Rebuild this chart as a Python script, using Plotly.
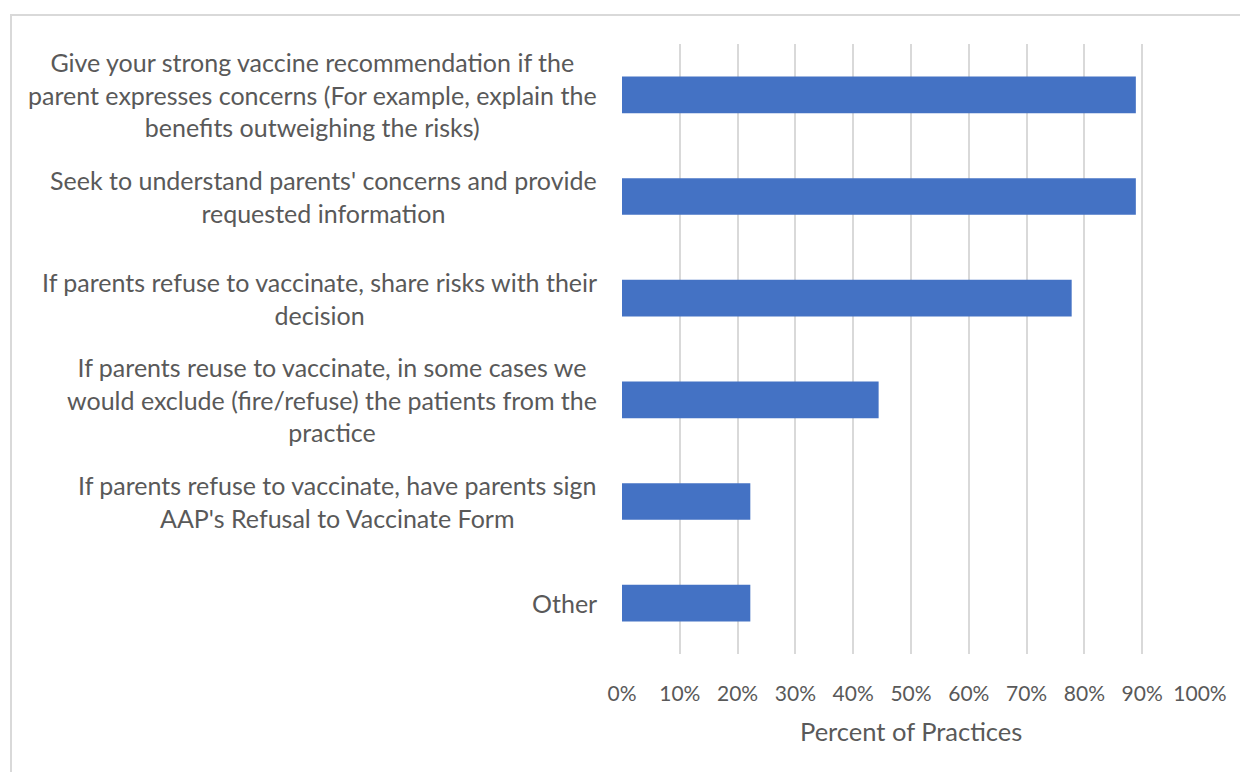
import plotly.graph_objects as go

categories = [
    "Give your strong vaccine recommendation if the<br>parent expresses concerns (For example, explain the<br>benefits outweighing the risks)",
    "Seek to understand parents' concerns and provide<br>requested information",
    "If parents refuse to vaccinate, share risks with their<br>decision",
    "If parents reuse to vaccinate, in some cases we<br>would exclude (fire/refuse) the patients from the<br>practice",
    "If parents refuse to vaccinate, have parents sign<br>AAP's Refusal to Vaccinate Form",
    "Other",
]
values = [0.889, 0.889, 0.778, 0.444, 0.222, 0.222]
x_ticks = [i / 10 for i in range(11)]
x_ticklabels = [f"{i*10}%" for i in range(11)]

FONT = "Lato"
TXT = "#595959"
OFF = 8  # page body margin
W, H = 1248, 772
L, T = 622 - OFF, 44 - OFF
R = W - (1200 - OFF)
B = H - (654 - OFF)
pw, ph = W - L - R, H - T - B


def px_x(ref_x):
    return (ref_x - OFF - L) / pw


def px_y(ref_y):
    return (H - B - (ref_y - OFF)) / ph


fig = go.Figure()
fig.add_trace(go.Bar(
    y=list(range(len(categories))),
    x=values,
    orientation="h",
    marker=dict(color="#4472C4", line=dict(width=0)),
    width=0.36,
    hoverinfo="skip",
))

annotations = []
for i, c in enumerate(categories):
    annotations.append(dict(
        x=px_x(599), xref="paper", y=i, yref="y",
        text=c, showarrow=False, xanchor="right", yanchor="middle",
        align="center", font=dict(family=FONT, size=25, color=TXT),
    ))
annotations.append(dict(
    x=0.5, xref="paper", y=px_y(731), yref="paper",
    text="Percent of Practices", showarrow=False, xanchor="center", yanchor="middle",
    font=dict(family=FONT, size=25.5, color=TXT),
))

fig.update_layout(
    width=W, height=H,
    margin=dict(l=L, r=R, t=T, b=B, pad=0),
    paper_bgcolor="white", plot_bgcolor="white",
    showlegend=False,
    bargap=0.64,
    annotations=annotations,
    xaxis=dict(
        range=[0, 1], tickvals=x_ticks, ticktext=x_ticklabels,
        showgrid=True, gridcolor="#d9d9d9", gridwidth=1.5,
        zeroline=False, showline=False, ticks="",
        tickfont=dict(family=FONT, size=21, color=TXT),
        ticklabelstandoff=25,
        fixedrange=True,
    ),
    yaxis=dict(
        range=[len(categories) - 0.5, -0.5],
        showticklabels=False, showgrid=False, zeroline=False,
        showline=False, ticks="", fixedrange=True,
    ),
    shapes=[dict(
        type="rect", xref="paper", yref="paper",
        x0=px_x(11), x1=px_x(1270),
        y0=px_y(800), y1=px_y(15),
        line=dict(color="#d9d9d9", width=2), fillcolor="rgba(0,0,0,0)",
        layer="below",
    )],
)

fig.write_html("out.html")
